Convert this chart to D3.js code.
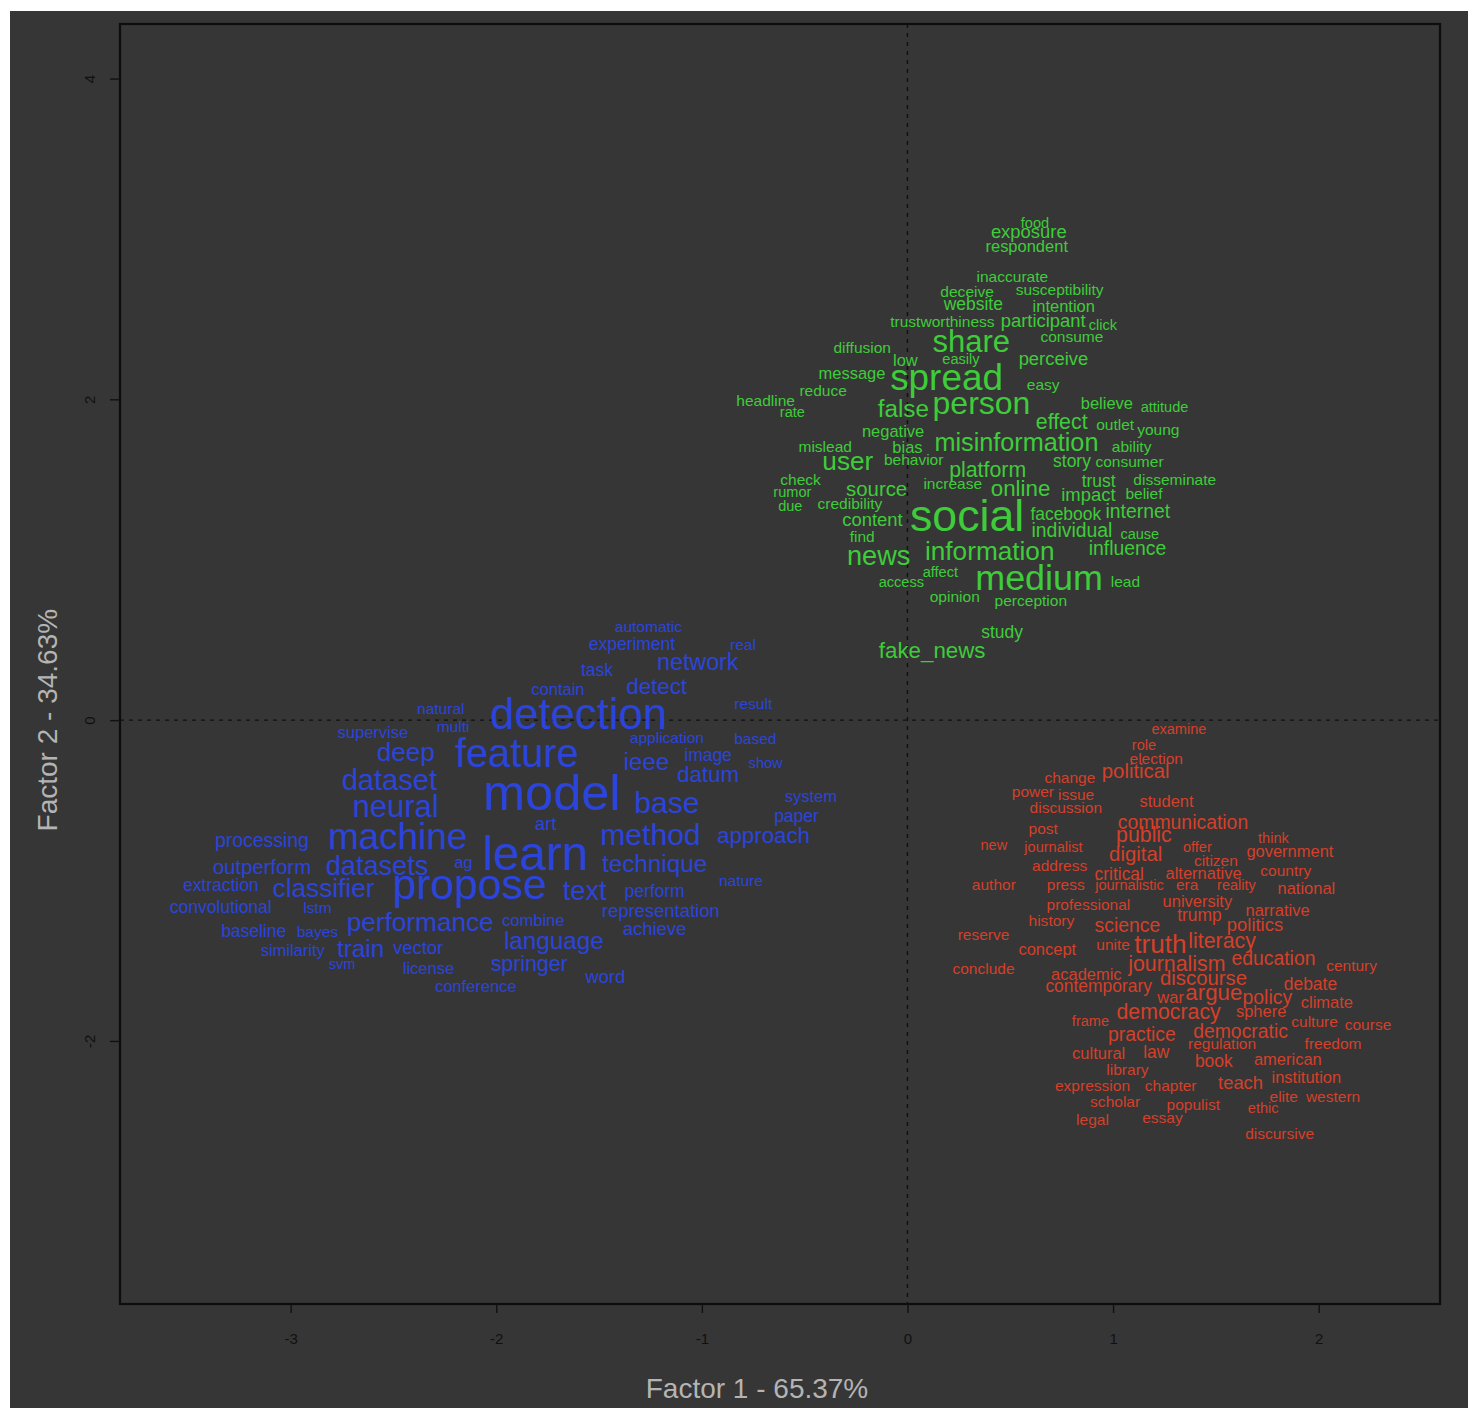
<!doctype html>
<html lang="en">
<head>
    <meta charset="utf-8">
    <title>Correspondence analysis word map</title>
    <script src="https://d3js.org/d3.v7.min.js"></script>
    <style>
        body { margin: 0; background: #ffffff; }
        svg text { font-family: "Liberation Sans", Arial, Helvetica, sans-serif; }
    </style>
</head>
<body>
<script>
    // Term coordinates on Factor 1 / Factor 2, with a frequency weight (font size)
    // Cluster 1: fake news / social media (green)
    const socialTerms = [
        ["food", 0.62, 3.10, 15], ["exposure", 0.59, 3.04, 19], ["respondent", 0.58, 2.95, 17],
        ["inaccurate", 0.51, 2.76, 16], ["deceive", 0.29, 2.67, 16], ["susceptibility", 0.74, 2.68, 16],
        ["website", 0.32, 2.59, 18], ["intention", 0.76, 2.58, 17], ["trustworthiness", 0.17, 2.48, 16],
        ["participant", 0.66, 2.49, 19], ["click", 0.95, 2.46, 15], ["consume", 0.80, 2.39, 16],
        ["share", 0.31, 2.36, 32], ["diffusion", -0.22, 2.32, 16], ["low", -0.01, 2.24, 17],
        ["easily", 0.26, 2.25, 15], ["perceive", 0.71, 2.25, 19], ["message", -0.27, 2.16, 17],
        ["spread", 0.19, 2.13, 38], ["easy", 0.66, 2.09, 16], ["reduce", -0.41, 2.05, 16],
        ["headline", -0.69, 1.99, 16], ["rate", -0.56, 1.92, 15], ["false", -0.02, 1.94, 25],
        ["person", 0.36, 1.97, 33], ["believe", 0.97, 1.97, 17], ["attitude", 1.25, 1.95, 15],
        ["effect", 0.75, 1.86, 22], ["outlet", 1.01, 1.84, 16], ["young", 1.22, 1.81, 16],
        ["negative", -0.07, 1.80, 17], ["bias", 0.00, 1.70, 17], ["misinformation", 0.53, 1.73, 26],
        ["ability", 1.09, 1.70, 16], ["mislead", -0.40, 1.70, 16], ["user", -0.29, 1.61, 27],
        ["behavior", 0.03, 1.62, 16], ["platform", 0.39, 1.56, 22], ["story", 0.80, 1.61, 18],
        ["consumer", 1.08, 1.61, 16], ["check", -0.52, 1.50, 16], ["rumor", -0.56, 1.42, 15],
        ["due", -0.57, 1.33, 15], ["source", -0.15, 1.44, 21], ["credibility", -0.28, 1.35, 16],
        ["increase", 0.22, 1.47, 16], ["online", 0.55, 1.44, 23], ["trust", 0.93, 1.49, 18],
        ["disseminate", 1.30, 1.50, 16], ["impact", 0.88, 1.40, 19], ["belief", 1.15, 1.41, 16],
        ["social", 0.29, 1.27, 46], ["facebook", 0.77, 1.28, 18], ["internet", 1.12, 1.30, 20],
        ["content", -0.17, 1.25, 19], ["individual", 0.80, 1.18, 20], ["cause", 1.13, 1.16, 15],
        ["find", -0.22, 1.14, 16], ["news", -0.14, 1.02, 28], ["information", 0.40, 1.05, 27],
        ["influence", 1.07, 1.07, 20], ["affect", 0.16, 0.92, 15], ["access", -0.03, 0.86, 15],
        ["medium", 0.64, 0.88, 37], ["lead", 1.06, 0.86, 16], ["opinion", 0.23, 0.77, 16],
        ["perception", 0.60, 0.74, 16], ["study", 0.46, 0.55, 18], ["fake_news", 0.12, 0.43, 23]
    ];

    // Cluster 2: machine learning / detection (blue)
    const detectionTerms = [
        ["automatic", -1.26, 0.58, 16], ["experiment", -1.34, 0.47, 18], ["real", -0.80, 0.47, 16],
        ["network", -1.02, 0.36, 24], ["task", -1.51, 0.31, 18], ["contain", -1.70, 0.19, 17],
        ["detect", -1.22, 0.21, 23], ["natural", -2.27, 0.07, 16], ["result", -0.75, 0.10, 16],
        ["detection", -1.60, 0.03, 45], ["multi", -2.21, -0.04, 16], ["supervise", -2.60, -0.08, 17],
        ["application", -1.17, -0.11, 16], ["based", -0.74, -0.12, 16], ["deep", -2.44, -0.20, 27],
        ["feature", -1.90, -0.21, 41], ["ieee", -1.27, -0.26, 25], ["image", -0.97, -0.22, 18],
        ["show", -0.69, -0.27, 15], ["datum", -0.97, -0.34, 23], ["dataset", -2.52, -0.38, 30],
        ["model", -1.73, -0.46, 52], ["system", -0.47, -0.48, 17], ["base", -1.17, -0.52, 31],
        ["neural", -2.49, -0.54, 32], ["paper", -0.54, -0.60, 18], ["art", -1.76, -0.65, 19],
        ["method", -1.25, -0.72, 31], ["approach", -0.70, -0.72, 23], ["machine", -2.48, -0.73, 38],
        ["processing", -3.14, -0.75, 20], ["learn", -1.81, -0.84, 49], ["technique", -1.23, -0.90, 25],
        ["ag", -2.16, -0.89, 17], ["datasets", -2.58, -0.91, 28], ["outperform", -3.14, -0.92, 21],
        ["nature", -0.81, -1.00, 16], ["propose", -2.13, -1.03, 44], ["extraction", -3.34, -1.03, 18],
        ["classifier", -2.84, -1.05, 27], ["text", -1.57, -1.07, 28], ["perform", -1.23, -1.07, 18],
        ["convolutional", -3.34, -1.17, 18], ["lstm", -2.87, -1.17, 16], ["representation", -1.20, -1.19, 19],
        ["performance", -2.37, -1.26, 27], ["combine", -1.82, -1.25, 17], ["achieve", -1.23, -1.30, 19],
        ["baseline", -3.18, -1.32, 18], ["bayes", -2.87, -1.32, 16], ["language", -1.72, -1.38, 25],
        ["vector", -2.38, -1.42, 19], ["train", -2.66, -1.43, 25], ["similarity", -2.99, -1.44, 17],
        ["springer", -1.84, -1.52, 22], ["svm", -2.75, -1.52, 15], ["license", -2.33, -1.55, 17],
        ["word", -1.47, -1.60, 19], ["conference", -2.10, -1.66, 17]
    ];

    // Cluster 3: journalism / democracy (red)
    const journalismTerms = [
        ["examine", 1.32, -0.06, 15], ["role", 1.15, -0.16, 15], ["election", 1.21, -0.24, 16],
        ["political", 1.11, -0.32, 21], ["change", 0.79, -0.36, 16], ["power", 0.61, -0.45, 16],
        ["issue", 0.82, -0.47, 16], ["student", 1.26, -0.51, 17], ["discussion", 0.77, -0.55, 16],
        ["communication", 1.34, -0.64, 20], ["post", 0.66, -0.68, 16], ["public", 1.15, -0.72, 22],
        ["think", 1.78, -0.74, 15], ["new", 0.42, -0.78, 15], ["journalist", 0.71, -0.79, 15],
        ["offer", 1.41, -0.79, 15], ["government", 1.86, -0.82, 17], ["digital", 1.11, -0.84, 21],
        ["citizen", 1.50, -0.88, 16], ["address", 0.74, -0.91, 16], ["country", 1.84, -0.94, 16],
        ["critical", 1.03, -0.96, 18], ["alternative", 1.44, -0.96, 17], ["author", 0.42, -1.03, 16],
        ["press", 0.77, -1.03, 16], ["journalistic", 1.08, -1.03, 15], ["era", 1.36, -1.03, 16],
        ["reality", 1.60, -1.03, 15], ["national", 1.94, -1.05, 17], ["university", 1.41, -1.13, 17],
        ["professional", 0.88, -1.15, 16], ["narrative", 1.80, -1.19, 17], ["trump", 1.42, -1.22, 18],
        ["history", 0.70, -1.25, 16], ["politics", 1.69, -1.28, 19], ["science", 1.07, -1.28, 20],
        ["reserve", 0.37, -1.34, 16], ["literacy", 1.53, -1.38, 22], ["truth", 1.23, -1.40, 27],
        ["unite", 1.00, -1.40, 16], ["concept", 0.68, -1.43, 17], ["education", 1.78, -1.49, 20],
        ["journalism", 1.31, -1.52, 22], ["century", 2.16, -1.53, 16], ["conclude", 0.37, -1.55, 16],
        ["academic", 0.87, -1.59, 17], ["discourse", 1.44, -1.61, 21], ["debate", 1.96, -1.65, 18],
        ["contemporary", 0.93, -1.66, 18], ["argue", 1.49, -1.70, 23], ["war", 1.28, -1.73, 17],
        ["policy", 1.75, -1.73, 20], ["climate", 2.04, -1.76, 17], ["democracy", 1.27, -1.82, 22],
        ["sphere", 1.72, -1.82, 17], ["culture", 1.98, -1.88, 16], ["frame", 0.89, -1.88, 15],
        ["course", 2.24, -1.90, 16], ["democratic", 1.62, -1.94, 20], ["practice", 1.14, -1.96, 20],
        ["regulation", 1.53, -2.02, 16], ["freedom", 2.07, -2.02, 16], ["law", 1.21, -2.07, 18],
        ["cultural", 0.93, -2.08, 17], ["american", 1.85, -2.12, 17], ["book", 1.49, -2.13, 18],
        ["library", 1.07, -2.18, 16], ["institution", 1.94, -2.23, 17], ["teach", 1.62, -2.26, 19],
        ["expression", 0.90, -2.28, 16], ["chapter", 1.28, -2.28, 16], ["elite", 1.83, -2.35, 16],
        ["western", 2.07, -2.35, 16], ["scholar", 1.01, -2.38, 16], ["populist", 1.39, -2.40, 16],
        ["ethic", 1.73, -2.42, 15], ["essay", 1.24, -2.48, 16], ["legal", 0.90, -2.49, 16],
        ["discursive", 1.81, -2.58, 16]
    ];

    const xTicks = [-3, -2, -1, 0, 1, 2];
    const yTicks = [-2, 0, 2, 4];
    const xTitle = "Factor 1 - 65.37%";
    const yTitle = "Factor 2 - 34.63%";

    const clusters = [
        { terms: socialTerms,     color: "#3fcc3a" },
        { terms: detectionTerms,  color: "#2b45dc" },
        { terms: journalismTerms, color: "#d4402a" }
    ];

    // Dimensions
    const width  = 1468;  const height = 1408;
    const margin = { top: 24, right: 28, bottom: 104, left: 120 };
    const innerW = width - margin.left - margin.right;
    const innerH = height - margin.top - margin.bottom;

    const svg = d3.select("body")
        .append("svg")
        .attr("width", width)
        .attr("height", height);

    // dark panel (the picture has a thin white strip top and left)
    svg.append("rect")
        .attr("x", 10).attr("y", 11)
        .attr("width", width - 10).attr("height", height - 11)
        .attr("fill", "#363636");

    const g = svg.append("g")
        .attr("transform", `translate(${margin.left},${margin.top})`);

    const x = d3.scaleLinear().domain([-3.83, 2.59]).range([0, innerW]);
    const y = d3.scaleLinear().domain([-3.64, 4.34]).range([innerH, 0]);
    const fontSize = d3.scaleLinear().domain([0, 1]).range([0, 0.97]);

    // reference lines through the origin
    g.append("line")
        .attr("x1", x(0)).attr("x2", x(0))
        .attr("y1", 0).attr("y2", innerH)
        .attr("stroke", "#111").attr("stroke-width", 1.4)
        .attr("stroke-dasharray", "4,5");
    g.append("line")
        .attr("x1", 0).attr("x2", innerW)
        .attr("y1", y(0)).attr("y2", y(0))
        .attr("stroke", "#111").attr("stroke-width", 1.4)
        .attr("stroke-dasharray", "4,5");

    // words
    clusters.forEach(c => {
        g.append("g")
            .selectAll("text")
            .data(c.terms)
            .join("text")
            .attr("x", d => x(d[1]))
            .attr("y", d => y(d[2]))
            .attr("dy", "0.32em")
            .attr("text-anchor", "middle")
            .attr("font-size", d => fontSize(d[3]) + "px")
            .attr("fill", c.color)
            .text(d => d[0]);
    });

    // box
    g.append("rect")
        .attr("width", innerW).attr("height", innerH)
        .attr("fill", "none")
        .attr("stroke", "#0d0d0d").attr("stroke-width", 2.2);

    // plain hyphen for negatives, like R
    const tickFmt = d => String(d);

    // bottom axis
    const xAxis = g.append("g")
        .attr("transform", `translate(0,${innerH})`)
        .call(d3.axisBottom(x).tickValues(xTicks).tickSize(9).tickPadding(20).tickFormat(tickFmt));
    // left axis, R style rotated labels
    const yAxis = g.append("g")
        .call(d3.axisLeft(y).tickValues(yTicks).tickSize(10).tickFormat(tickFmt));

    [xAxis, yAxis].forEach(a => {
        a.select(".domain").remove();
        a.selectAll(".tick line").attr("stroke", "#111").attr("stroke-width", 1.4);
        a.selectAll(".tick text")
            .attr("fill", "#111")
            .attr("font-size", "15px")
            .attr("font-family", "Liberation Sans, Arial, sans-serif");
    });
    yAxis.selectAll(".tick text")
        .attr("x", null).attr("dy", null)
        .attr("text-anchor", "middle")
        .attr("transform", "translate(-30,0) rotate(-90)")
        .attr("dy", "0.35em");

    // axis titles
    svg.append("text")
        .attr("x", 757).attr("y", 1388)
        .attr("dy", "0.35em")
        .attr("text-anchor", "middle")
        .attr("font-size", "28px")
        .attr("fill", "#b4b4b4")
        .text(xTitle);

    svg.append("text")
        .attr("transform", `translate(47,${margin.top + y(0)}) rotate(-90)`)
        .attr("dy", "0.35em")
        .attr("text-anchor", "middle")
        .attr("font-size", "28px")
        .attr("fill", "#b4b4b4")
        .text(yTitle);
</script>
</body>
</html>
